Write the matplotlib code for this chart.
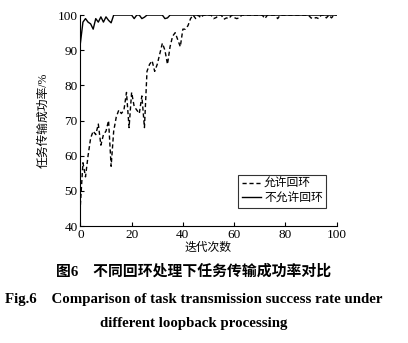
import numpy as np
import matplotlib.pyplot as plt

plt.rcParams['font.family'] = ['Liberation Serif', 'Noto Sans CJK SC']
plt.rcParams['axes.unicode_minus'] = False

# iteration index
iters = np.arange(0, 101)

# success rate with loopback allowed (%)
rate_loop = [46, 58, 54, 60, 65, 67, 66, 69, 63, 66,
             67, 70, 57, 67, 71, 73, 72, 73, 78, 68,
             78, 74, 73, 72, 77, 68, 84, 86, 87, 84,
             86, 89, 92, 90, 86, 91, 94, 95, 93, 91,
             96, 96, 97, 99, 100, 99, 100, 99.2, 100, 100,
             100, 100, 99, 99.3, 100, 100, 98.8, 99.2, 99, 100,
             99.3, 99, 99.2, 100, 100, 100, 100, 100, 100, 100,
             100, 100, 99, 100, 100, 100, 100, 99, 100, 100,
             100, 100, 100, 100, 100, 100, 100, 100, 100, 100,
             99.2, 99, 99.3, 99, 100, 100, 99.2, 100, 99.2, 100,
             100]

# success rate without loopback (%)
rate_noloop = [92, 98, 99, 98, 97.5, 96, 99, 98, 99.5, 98,
               99.5, 98.5, 97.8, 100, 100, 100, 100, 100, 100, 100,
               100, 99, 100, 100, 99, 99.4, 100, 100, 100, 100,
               100, 100, 100, 99, 99.2, 100, 100, 100, 100, 100,
               100, 100, 100, 100, 100, 100, 100, 100, 100, 100,
               100, 100, 100, 100, 100, 100, 100, 100, 100, 100,
               100, 100, 100, 100, 100, 100, 100, 100, 100, 100,
               100, 100, 100, 100, 100, 100, 100, 100, 100, 100,
               100, 100, 100, 100, 100, 100, 100, 100, 100, 100,
               100, 100, 100, 100, 100, 100, 100, 100, 100, 100,
               100]

fig = plt.figure(figsize=(4.08, 3.43), dpi=100)
ax = fig.add_axes([0.197, 0.341, 0.628, 0.615])

ax.plot(iters, rate_loop, color='black', lw=1.0, ls=(0, (3, 2)), label='允许回环')
ax.plot(iters, rate_noloop, color='black', lw=1.0, ls='-', label='不允许回环')

ax.set_xlim(0, 100)
ax.set_ylim(40, 100)
ax.set_xticks([0, 20, 40, 60, 80, 100])
ax.set_yticks([40, 50, 60, 70, 80, 90, 100])
ax.tick_params(direction='in', length=3, width=0.8, labelsize=9.5, pad=2)
ax.spines['top'].set_visible(False)
ax.spines['right'].set_visible(False)
ax.set_xlabel('迭代次数', fontsize=8.5, labelpad=1)
ax.set_ylabel('任务传输成功率/%', fontsize=8.5, labelpad=6)

leg = ax.legend(loc='lower right', bbox_to_anchor=(0.96, 0.085), fontsize=8.5,
                frameon=True, fancybox=False, edgecolor='black', handlelength=1.6,
                handletextpad=0.3, borderpad=0.3, labelspacing=0.2, borderaxespad=0)
leg.get_frame().set_linewidth(0.8)

cap_x = 194 / 408
fig.text(cap_x, 1 - 271 / 343, '图6　不同回环处理下任务传输成功率对比', ha='center', va='center',
         fontsize=10.7, fontweight='bold')
fig.text(cap_x, 1 - 300 / 343, 'Fig.6　Comparison of task transmission success rate under',
         ha='center', va='center', fontsize=10.7, fontweight='bold')
fig.text(cap_x, 1 - 323 / 343, 'different loopback processing', ha='center', va='center',
         fontsize=10.7, fontweight='bold')

fig.savefig('out.png', dpi=100)
